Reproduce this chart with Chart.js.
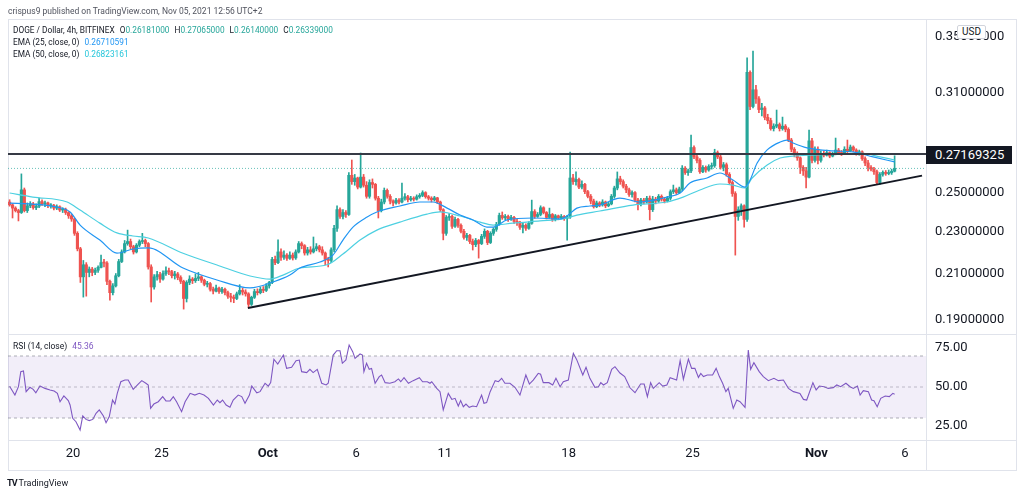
<!DOCTYPE html>
<html>
<head>
<meta charset="utf-8">
<script src="https://cdn.jsdelivr.net/npm/chart.js@4.4.0/dist/chart.umd.min.js"></script>
<style>
  html, body { margin: 0; padding: 0; background: #fff; }
  body { width: 1024px; height: 496px; position: relative; overflow: hidden; font-family: Roboto, sans-serif; }
  canvas { position: absolute; left: 0; }
  #priceCanvas { top: 0; }
  #rsiCanvas { top: 314px; }
  .ln { position: absolute; background: #e0e3eb; }
  .txt { position: absolute; white-space: pre; color: #131722; line-height: 11px; }
  .g { color: #26a69a; }
  .b { color: #2196f3; }
  .c { color: #26c6da; }
  .p { color: #7e57c2; }
  .sp { margin-left: 5px; }
</style>
</head>
<body>
<div class="ln" style="left:8px;top:19px;width:1009px;height:1px"></div>
<div class="ln" style="left:8px;top:470px;width:1009px;height:1px"></div>
<div class="ln" style="left:8px;top:19px;width:1px;height:452px"></div>
<div class="ln" style="left:1016px;top:19px;width:1px;height:452px"></div>
<div class="ln" style="left:926px;top:19px;width:1px;height:452px"></div>
<div class="ln" style="left:8px;top:334px;width:1009px;height:1px"></div>
<div class="ln" style="left:8px;top:440px;width:1009px;height:1px"></div>

<canvas id="priceCanvas" width="1024" height="354"></canvas>
<canvas id="rsiCanvas" width="1024" height="182"></canvas>

<div class="txt" style="left:8px;top:6px;font-size:8.5px;color:#50535e">crispus9 published on TradingView.com, Nov 05, 2021 12:56 UTC+2</div>
<div class="txt" style="left:13px;top:25px;font-size:8.3px">DOGE / Dollar, 4h, BITFINEX<span class="sp">O<span class="g">0.26181000</span></span><span class="sp">H<span class="g">0.27065000</span></span><span class="sp">L<span class="g">0.26140000</span></span><span class="sp">C<span class="g">0.26339000</span></span></div>
<div class="txt" style="left:13px;top:37px;font-size:8.3px">EMA (25, close, 0)<span class="sp b">0.26710591</span></div>
<div class="txt" style="left:13px;top:48.5px;font-size:8.3px">EMA (50, close, 0)<span class="sp c">0.26823161</span></div>
<div class="txt" style="left:13px;top:340.5px;font-size:8.5px">RSI (14, close)<span class="sp p">45.36</span></div>

<div style="position:absolute;left:926px;top:146px;width:86px;height:18px;background:#131722;color:#fff;font-size:13px;line-height:18px;padding-left:9px;box-sizing:border-box">0.27169325</div>
<div style="position:absolute;left:957px;top:25px;width:29px;height:14px;box-sizing:border-box;border:1px solid #d1d4dc;border-radius:2px;background:#fff;color:#131722;font-size:10px;line-height:12px;text-align:center">USD</div>

<div class="txt" style="left:7px;top:478px;font-size:9px;color:#131722"><b style="letter-spacing:-1px">TV</b> TradingView</div>

<script>
// DOGE/USD 4h candles, Sep 16 10:00 -> Nov 5 10:00 (UTC+2)
const firstOpen = .2450;
const closes = [
  .2435, .2418, .2405, .2395,
  .2515, .2405, .2430, .2440, .2420, .2428,
  .2452, .2440, .2445, .2430, .2432, .2418,
  .2425, .2408, .2412, .2395, .2378, .2362,
  .2290, .2215, .2085, .2140, .2105, .2120,
  .2105, .2115, .2128, .2150, .2148, .2065,
  .2015, .2045, .2090, .2155, .2200, .2240,
  .2250, .2225, .2200, .2232, .2250, .2255,
  .2240, .2130, .2040, .2085, .2095, .2075,
  .2100, .2112, .2108, .2090, .2098, .2082,
  .2065, .1990, .2060, .2075, .2068, .2078,
  .2085, .2070, .2052, .2055, .2030, .2022,
  .2035, .2020, .2030, .2015, .2000, .1995,
  .1990, .2010, .2025, .2018, .2010, .1965,
  .1995, .2020, .2015, .2030, .2025, .2045,
  .2060, .2165, .2150, .2200, .2175, .2185,
  .2170, .2185, .2172, .2200, .2240, .2230,
  .2195, .2210, .2200, .2215, .2225, .2210,
  .2195, .2165, .2160, .2210, .2315, .2410,
  .2375, .2395, .2385, .2595, .2560, .2580,
  .2530, .2585, .2540, .2480, .2555, .2545,
  .2470, .2405, .2450, .2512, .2480, .2455,
  .2445, .2460, .2450, .2470, .2478, .2462,
  .2470, .2465, .2478, .2485, .2500, .2478,
  .2470, .2462, .2472, .2450, .2410, .2290,
  .2370, .2375, .2325, .2360, .2330, .2300,
  .2270, .2280, .2250, .2235, .2255, .2240,
  .2275, .2300, .2245, .2290, .2310, .2335,
  .2380, .2368, .2375, .2362, .2370, .2350,
  .2345, .2320, .2330, .2315, .2340, .2400,
  .2375, .2385, .2420, .2395, .2370, .2385,
  .2360, .2378, .2368, .2375, .2365, .2372,
  .2580, .2560, .2572, .2530, .2545, .2505,
  .2480, .2455, .2425, .2445, .2435, .2450,
  .2430, .2440, .2480, .2525, .2575, .2560,
  .2535, .2515, .2490, .2500, .2460, .2440,
  .2460, .2450, .2470, .2410, .2465, .2455,
  .2480, .2465, .2455, .2470, .2505, .2515,
  .2500, .2520, .2635, .2610, .2620, .2755,
  .2700, .2680, .2615, .2640, .2625, .2645,
  .2650, .2725, .2700, .2640, .2655, .2600,
  .2555, .2495, .2375, .2410, .2430, .2360,
  .3240, .3010, .3120, .3060, .2990, .3000,
  .2940, .2920, .2870, .2885, .2895, .2870,
  .2885, .2865, .2800, .2745, .2720, .2695,
  .2640, .2620, .2585, .2795, .2680, .2745,
  .2680, .2720, .2710, .2725, .2705, .2720,
  .2740, .2725, .2720, .2745, .2735, .2758,
  .2740, .2720, .2730, .2690, .2665, .2640,
  .2630, .2615, .2555, .2600, .2612, .2605,
  .2610, .26181, .26339
];
const highs = [
  .2462, .2440, .2425, .2412,
  .2603, .2525, .2445, .2452, .2448, .2440,
  .2471, .2462, .2455, .2450, .2442, .2438,
  .2435, .2430, .2420, .2418, .2400, .2385,
  .2365, .2298, .2222, .2160, .2150, .2130,
  .2128, .2125, .2135, .2185, .2165, .2155,
  .2070, .2055, .2100, .2165, .2210, .2255,
  .2306, .2262, .2232, .2240, .2258, .2290,
  .2262, .2245, .2140, .2095, .2110, .2105,
  .2112, .2130, .2125, .2115, .2110, .2105,
  .2090, .2070, .2068, .2090, .2082, .2098,
  .2105, .2090, .2075, .2065, .2060, .2040,
  .2048, .2040, .2038, .2035, .2022, .2012,
  .2005, .2018, .2050, .2035, .2028, .2015,
  .2000, .2030, .2032, .2040, .2042, .2055,
  .2065, .2175, .2180, .2258, .2215, .2205,
  .2192, .2200, .2195, .2210, .2250, .2248,
  .2235, .2222, .2225, .2272, .2240, .2232,
  .2225, .2200, .2175, .2220, .2330, .2430,
  .2420, .2410, .2405, .2610, .2682, .2600,
  .2585, .2723, .2600, .2560, .2570, .2575,
  .2550, .2480, .2465, .2525, .2520, .2490,
  .2462, .2470, .2468, .2552, .2495, .2485,
  .2480, .2478, .2488, .2495, .2510, .2505,
  .2485, .2478, .2480, .2475, .2455, .2415,
  .2380, .2390, .2382, .2372, .2365, .2338,
  .2310, .2290, .2285, .2262, .2265, .2260,
  .2285, .2312, .2305, .2298, .2318, .2345,
  .2392, .2398, .2385, .2382, .2380, .2375,
  .2360, .2350, .2345, .2338, .2348, .2460,
  .2410, .2395, .2430, .2425, .2400, .2418,
  .2390, .2385, .2382, .2385, .2380, .2380,
  .2729, .2600, .2614, .2580, .2565, .2550,
  .2512, .2490, .2465, .2455, .2452, .2462,
  .2455, .2448, .2490, .2535, .2614, .2590,
  .2570, .2545, .2525, .2510, .2505, .2470,
  .2470, .2470, .2480, .2482, .2480, .2475,
  .2490, .2488, .2475, .2480, .2515, .2541,
  .2525, .2530, .2650, .2645, .2630, .2830,
  .2765, .2710, .2690, .2650, .2648, .2655,
  .2665, .2745, .2735, .2710, .2668, .2665,
  .2610, .2565, .2505, .2425, .2440, .2435,
  .3342, .3250, .3392, .3150, .3075, .3030,
  .3010, .2960, .2935, .2900, .2987, .2905,
  .2942, .2895, .2875, .2810, .2755, .2730,
  .2700, .2650, .2640, .2861, .2810, .2760,
  .2760, .2735, .2735, .2740, .2730, .2728,
  .2812, .2750, .2738, .2760, .2800, .2770,
  .2765, .2748, .2740, .2735, .2700, .2680,
  .2650, .2640, .2625, .2610, .2620, .2622,
  .2625, .2630, .27065
];
const lows = [
  .2428, .2367, .2398, .2352,
  .2390, .2398, .2395, .2420, .2412, .2410,
  .2420, .2432, .2425, .2420, .2418, .2408,
  .2410, .2400, .2395, .2385, .2365, .2350,
  .2280, .2205, .2060, .1996, .2000, .2085,
  .2090, .2095, .2105, .2125, .2130, .2050,
  .1983, .2005, .2040, .2085, .2150, .2195,
  .2232, .2215, .2190, .2195, .2225, .2240,
  .2225, .2120, .1975, .2030, .2070, .2060,
  .2070, .2092, .2095, .2080, .2075, .2072,
  .2055, .1945, .1975, .2050, .2055, .2060,
  .2068, .2060, .2045, .2040, .2022, .2010,
  .2018, .2012, .2012, .2005, .1990, .1975,
  .1972, .1985, .2005, .2005, .2000, .1950,
  .1960, .1990, .2005, .2010, .2015, .2020,
  .2035, .2055, .2140, .2145, .2160, .2165,
  .2160, .2165, .2162, .2165, .2195, .2215,
  .2185, .2185, .2190, .2195, .2205, .2200,
  .2185, .2140, .2130, .2150, .2200, .2300,
  .2365, .2362, .2370, .2380, .2545, .2540,
  .2520, .2525, .2530, .2470, .2470, .2525,
  .2460, .2367, .2398, .2440, .2470, .2440,
  .2430, .2438, .2440, .2445, .2460, .2450,
  .2455, .2455, .2460, .2470, .2478, .2470,
  .2460, .2450, .2455, .2442, .2400, .2258,
  .2280, .2355, .2315, .2320, .2320, .2292,
  .2262, .2255, .2240, .2209, .2225, .2171,
  .2235, .2265, .2235, .2240, .2280, .2300,
  .2330, .2360, .2358, .2350, .2355, .2340,
  .2330, .2310, .2292, .2305, .2310, .2335,
  .2365, .2370, .2378, .2388, .2362, .2365,
  .2350, .2352, .2358, .2362, .2355, .2257,
  .2365, .2545, .2540, .2522, .2520, .2495,
  .2472, .2440, .2418, .2420, .2425, .2428,
  .2420, .2425, .2435, .2470, .2515, .2545,
  .2525, .2500, .2480, .2475, .2450, .2408,
  .2430, .2440, .2445, .2357, .2400, .2440,
  .2448, .2455, .2445, .2450, .2460, .2495,
  .2490, .2495, .2510, .2600, .2595, .2610,
  .2690, .2665, .2605, .2610, .2612, .2618,
  .2630, .2640, .2690, .2630, .2620, .2590,
  .2545, .2480, .2185, .2355, .2380, .2321,
  .2350, .2990, .3000, .3030, .2970, .2950,
  .2925, .2900, .2860, .2855, .2875, .2855,
  .2860, .2850, .2790, .2730, .2700, .2680,
  .2605, .2595, .2525, .2580, .2665, .2670,
  .2660, .2670, .2700, .2705, .2695, .2700,
  .2712, .2715, .2708, .2715, .2725, .2730,
  .2730, .2710, .2710, .2680, .2650, .2620,
  .2620, .2600, .2548, .2545, .2590, .2595,
  .2598, .2600, .26140
];

// EMA lines read as [candle index, price]
const ema25Line = [
  [0, .2444], [7.9, .2439], [16.1, .2423], [20.5, .2398], [23.9, .2331], [30.6, .2257],
  [36.4, .2194], [41.8, .2214], [47.0, .2219], [58.8, .2125], [70.3, .2071], [81.5, .2036],
  [89.3, .2062], [95.0, .2093], [98.4, .2125], [105.2, .2153], [109.6, .2185], [113.0, .2257],
  [116.4, .2321], [121.2, .2372], [124.5, .2398], [132.3, .2429], [139.1, .2450], [143.5, .2450],
  [148.3, .2418], [152.7, .2382], [157.1, .2357], [161.8, .2321], [163.9, .2321], [168.6, .2357],
  [177.4, .2367], [186.6, .2362], [188.9, .2377], [192.3, .2418], [196.7, .2429], [200.1, .2434],
  [206.9, .2471], [213.7, .2450], [222.8, .2476], [227.3, .2498], [230.6, .2552], [236.4, .2580],
  [240.8, .2608], [245.2, .2569], [249.3, .2530], [251.0, .2569], [253.4, .2665], [256.8, .2741],
  [261.2, .2788], [263.5, .2800], [265.6, .2782], [270.3, .2753], [279.1, .2735], [285.9, .2729],
  [292.7, .2700], [300, .26711]
];
const ema50Line = [
  [0, .2498], [7.9, .2476], [19.5, .2450], [23.9, .2408], [30.6, .2341], [36.4, .2292],
  [41.8, .2277], [47.0, .2267], [58.8, .2194], [70.3, .2139], [81.5, .2089], [88.3, .2075],
  [92.7, .2093], [98.4, .2125], [107.6, .2140], [113.0, .2190], [118.8, .2257], [124.5, .2306],
  [132.3, .2346], [141.5, .2387], [145.9, .2398], [152.7, .2377], [159.5, .2346], [163.9, .2331],
  [170.6, .2341], [179.8, .2352], [187.6, .2362], [192.3, .2382], [200.1, .2403], [211.3, .2434],
  [222.8, .2450], [228.3, .2476], [234.0, .2514], [240.8, .2547], [245.2, .2541], [249.3, .2525],
  [251.7, .2580], [256.8, .2654], [261.2, .2694], [265.6, .2705], [272.3, .2711], [281.5, .2717],
  [288.3, .2723], [295.1, .2700], [300, .26823]
];

// RSI (14) read as [candle index, value]
const rsiLine = [
  [0, 50.5], [1.8, 44.8], [3.0, 50.2], [3.8, 59.9], [4.7, 60.3], [5.6, 47.0], [6.9, 49.8], [8.0, 48.5],
  [8.9, 46.3], [10.3, 50.6], [12.0, 49.1], [13.7, 48.1], [15.1, 47.4], [16.2, 45.9], [17.1, 40.5],
  [18.4, 44.2], [19.9, 41.2], [20.5, 38.4], [21.4, 29.8], [22.5, 27.6], [23.9, 22.3], [24.8, 31.3],
  [25.9, 29.1], [27.0, 28.3], [28.2, 29.1], [29.3, 33.0], [30.4, 35.2], [31.8, 31.3], [32.7, 27.0],
  [33.8, 30.9], [34.9, 41.6], [35.7, 39.0], [36.5, 45.9], [37.7, 53.4], [39.1, 54.5], [40.2, 54.5],
  [41.9, 48.5], [43.6, 51.9], [44.8, 54.1], [46.2, 52.4], [47.0, 51.3], [47.8, 36.2], [48.9, 39.0],
  [50.4, 40.5], [51.9, 43.8], [53.0, 41.0], [54.4, 41.0], [55.5, 43.8], [56.6, 40.5], [58.3, 34.1],
  [59.5, 40.5], [61.2, 45.9], [62.8, 44.8], [64.3, 45.9], [65.9, 44.8], [67.4, 42.7], [69.1, 38.4],
  [70.4, 41.6], [71.3, 39.9], [72.2, 41.6], [73.4, 38.4], [74.7, 36.9], [75.8, 41.6], [77.5, 44.8],
  [78.7, 43.8], [79.8, 39.5], [81.3, 44.8], [82.1, 50.6], [83.8, 46.3], [84.9, 47.0], [86.6, 52.4],
  [87.7, 50.6], [88.5, 52.8], [89.6, 67.9], [90.9, 64.8], [92.8, 70.6], [93.9, 62.0], [95.6, 62.7],
  [97.1, 67.0], [98.2, 67.4], [99.0, 59.9], [100.7, 59.3], [101.8, 61.4], [102.9, 59.3], [104.3, 61.4],
  [105.8, 52.4], [107.3, 51.3], [108.0, 52.4], [109.7, 70.6], [110.9, 73.4], [112.0, 73.4], [112.8, 65.3],
  [114.0, 67.4], [115.1, 77.1], [116.3, 72.8], [117.1, 68.5], [118.8, 71.3], [119.6, 70.6], [120.1, 59.9],
  [121.0, 65.3], [121.9, 61.4], [122.7, 62.0], [123.9, 52.4], [125.3, 56.7], [126.1, 57.7], [127.3, 52.8],
  [128.9, 52.4], [130.6, 53.4], [131.8, 55.2], [132.6, 53.4], [133.7, 56.0], [135.2, 52.4], [136.8, 54.1],
  [138.9, 56.0], [140.0, 53.4], [141.6, 53.4], [142.5, 52.4], [143.1, 53.4], [144.8, 49.1], [145.9, 47.0],
  [147.0, 35.2], [148.7, 45.9], [149.9, 42.0], [151.0, 42.7], [152.1, 37.7], [152.9, 41.2], [153.8, 37.3],
  [154.7, 39.0], [155.8, 36.9], [157.0, 37.7], [158.3, 37.3], [160.0, 44.8], [160.8, 39.5], [161.7, 39.9],
  [162.9, 47.0], [164.6, 54.1], [165.7, 53.4], [166.8, 55.6], [167.9, 52.4], [169.6, 52.4], [171.3, 49.8],
  [173.0, 44.8], [175.0, 57.7], [176.2, 51.9], [177.5, 54.5], [179.2, 58.8], [180.0, 58.2], [180.9, 52.8],
  [182.8, 52.8], [184.1, 51.3], [185.2, 55.6], [186.6, 50.2], [187.7, 53.4], [189.4, 54.5], [191.1, 71.7],
  [192.2, 67.8], [194.3, 57.7], [195.4, 62.7], [196.7, 55.6], [198.4, 49.8], [199.6, 50.2], [200.4, 52.8],
  [201.3, 51.3], [202.6, 52.8], [204.1, 61.4], [205.2, 63.1], [206.9, 59.0], [208.5, 56.7], [210.3, 49.5],
  [212.0, 46.3], [213.9, 51.9], [215.1, 51.9], [216.2, 43.8], [217.3, 52.8], [218.2, 49.1], [220.2, 52.8],
  [221.4, 50.6], [222.8, 51.3], [223.9, 56.0], [226.1, 54.5], [227.3, 67.0], [228.4, 55.0], [230.1, 68.0],
  [231.2, 62.0], [232.3, 62.0], [233.5, 56.2], [234.3, 58.8], [235.2, 56.7], [236.5, 57.7], [238.3, 57.7],
  [239.5, 62.0], [240.6, 56.7], [241.7, 52.4], [242.8, 47.0], [243.6, 49.1], [245.3, 36.2], [246.5, 41.6],
  [247.6, 40.5], [249.3, 36.9], [250.4, 73.9], [251.2, 61.4], [252.3, 65.7], [254.1, 59.9], [255.5, 56.7],
  [257.2, 54.1], [259.1, 55.6], [260.6, 54.1], [262.3, 54.5], [264.0, 49.1], [265.7, 47.0], [267.9, 45.9],
  [269.1, 42.0], [270.2, 41.6], [272.3, 52.8], [273.4, 48.1], [274.5, 50.6], [276.1, 50.2], [277.5, 49.1],
  [279.2, 49.6], [280.4, 51.3], [281.7, 50.2], [283.5, 52.4], [284.9, 50.2], [286.0, 49.1], [287.4, 50.6],
  [288.3, 44.8], [289.4, 47.6], [291.1, 47.0], [292.2, 41.6], [293.0, 41.2], [294.1, 37.3], [295.3, 42.7],
  [296.8, 44.2], [298.2, 43.8], [299.4, 45.9], [300, 45.36]
];

// drawings
const levelPrice = 0.27169325;
const lastPrice = 0.26339;
const trendLine = [[80.8, 0.19495], [309.3, 0.25933]];

// axes
const priceTicks = [0.19, 0.21, 0.23, 0.25, 0.31, 0.35];
const rsiTicks = [25, 50, 75];
const rsiBands = [70, 50, 30];
const dateTickIdx = [21.5, 51.5, 87.5, 117.5, 147.5, 189.5, 231.5, 273.5, 303.5];
const dateTickLabels = ['20', '25', 'Oct', '6', '11', '18', '25', 'Nov', '6'];

const X_MIN = -0.54, X_MAX = 310.64;
const P_MIN = 0.18434, P_MAX = 0.36345;
const R_MIN = 15.81, R_MAX = 84.19;

const GREEN = '#26a69a', RED = '#ef5350';

Chart.defaults.font.family = 'Roboto';
Chart.defaults.color = '#131722';

const opens = [firstOpen].concat(closes.slice(0, -1));
const candleColor = closes.map((c, i) => c >= opens[i] ? GREEN : RED);
const bodies = closes.map((c, i) => ({x: i, y: [opens[i], c]}));
const wicks = closes.map((c, i) => ({x: i, y: [lows[i], highs[i]]}));
const pts = arr => arr.map(p => ({x: p[0], y: p[1]}));
const flat = v => [{x: X_MIN, y: v}, {x: X_MAX, y: v}];

const lineBase = {type: 'line', pointRadius: 0, fill: false};

new Chart(document.getElementById('priceCanvas'), {
    type: 'bar',
    data: {
        datasets: [
            Object.assign({}, lineBase, {data: flat(levelPrice), borderColor: '#363a45', borderWidth: 2, order: 0}),
            Object.assign({}, lineBase, {data: pts(trendLine), borderColor: '#131722', borderWidth: 2, order: 0}),
            Object.assign({}, lineBase, {data: flat(lastPrice), borderColor: 'rgba(38,166,154,0.7)', borderWidth: 1, borderDash: [1, 2], order: 1}),
            Object.assign({}, lineBase, {data: pts(ema25Line), borderColor: '#2196f3', borderWidth: 1.2, cubicInterpolationMode: 'monotone', order: 2}),
            Object.assign({}, lineBase, {data: pts(ema50Line), borderColor: '#4dd0e1', borderWidth: 1.2, cubicInterpolationMode: 'monotone', order: 2}),
            {data: bodies, backgroundColor: candleColor, barThickness: 2.5, minBarLength: 1, grouped: false, borderWidth: 0, order: 3},
            {data: wicks, backgroundColor: candleColor, barThickness: 1, grouped: false, borderWidth: 0, order: 4}
        ]
    },
    options: {
        responsive: false,
        animation: false,
        devicePixelRatio: 1,
        events: [],
        layout: {padding: {left: 8, top: 19, right: 0, bottom: 20}},
        plugins: {legend: {display: false}, tooltip: {enabled: false}},
        scales: {
            x: {type: 'linear', min: X_MIN, max: X_MAX, offset: false, display: false},
            y: {
                type: 'logarithmic',
                position: 'right',
                min: P_MIN,
                max: P_MAX,
                afterFit: function(s) { s.width = 98; },
                afterBuildTicks: function(s) { s.ticks = priceTicks.map(v => ({value: v})); },
                grid: {display: false, drawTicks: false},
                border: {display: false},
                ticks: {
                    autoSkip: false,
                    padding: 9,
                    color: '#131722',
                    font: {size: 13},
                    callback: v => Number(v).toFixed(8)
                }
            }
        }
    }
});

new Chart(document.getElementById('rsiCanvas'), {
    type: 'line',
    data: {
        datasets: [
            Object.assign({}, lineBase, {data: flat(rsiBands[0]), fill: {value: rsiBands[2]}, backgroundColor: 'rgba(126,87,194,0.1)',
                borderColor: 'rgba(120,123,134,0.6)', borderWidth: 1, borderDash: [3, 3]}),
            Object.assign({}, lineBase, {data: flat(rsiBands[1]), borderColor: 'rgba(120,123,134,0.45)', borderWidth: 1, borderDash: [3, 3]}),
            Object.assign({}, lineBase, {data: flat(rsiBands[2]), borderColor: 'rgba(120,123,134,0.6)', borderWidth: 1, borderDash: [3, 3]}),
            Object.assign({}, lineBase, {data: pts(rsiLine), borderColor: '#7e57c2', borderWidth: 1.1})
        ]
    },
    options: {
        responsive: false,
        animation: false,
        devicePixelRatio: 1,
        events: [],
        layout: {padding: {left: 8, top: 20, right: 0, bottom: 26}},
        plugins: {legend: {display: false}, tooltip: {enabled: false}},
        scales: {
            x: {
                type: 'linear',
                min: X_MIN,
                max: X_MAX,
                offset: false,
                afterFit: function(s) { s.height = 30; },
                afterBuildTicks: function(s) { s.ticks = dateTickIdx.map(v => ({value: v})); },
                grid: {display: false, drawTicks: false},
                border: {display: false},
                ticks: {
                    autoSkip: false,
                    maxRotation: 0,
                    padding: 6,
                    color: '#131722',
                    font: function(ctx) {
                        const lbl = ctx.tick ? ctx.tick.label : '';
                        return {size: 13, weight: /[A-Za-z]/.test(lbl) ? 'bold' : 'normal'};
                    },
                    callback: (v, k) => dateTickLabels[k]
                }
            },
            y: {
                type: 'linear',
                position: 'right',
                min: R_MIN,
                max: R_MAX,
                afterFit: function(s) { s.width = 98; },
                afterBuildTicks: function(s) { s.ticks = rsiTicks.map(v => ({value: v})); },
                grid: {display: false, drawTicks: false},
                border: {display: false},
                ticks: {
                    autoSkip: false,
                    padding: 9,
                    color: '#131722',
                    font: {size: 13},
                    callback: v => Number(v).toFixed(2)
                }
            }
        }
    }
});
</script>
</body>
</html>
